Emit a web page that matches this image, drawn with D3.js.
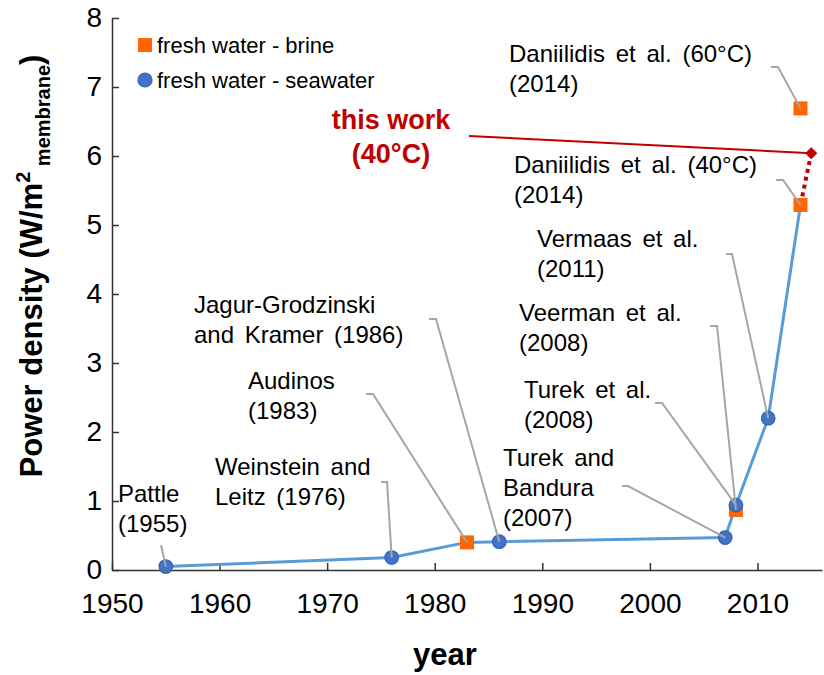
<!DOCTYPE html>
<html>
<head>
<meta charset="utf-8">
<script src="https://cdn.jsdelivr.net/npm/d3@7/dist/d3.min.js"></script>
<style>
  html, body { margin: 0; padding: 0; background: #fff; }
  svg { display: block; font-family: "Liberation Sans", Arial, sans-serif; }
</style>
</head>
<body>
<svg id="chart" width="824" height="675"></svg>
<script>
// ---------- data ----------
const xTicks = [1950, 1960, 1970, 1980, 1990, 2000, 2010];
const yTicks = [0, 1, 2, 3, 4, 5, 6, 7, 8];

const seawaterYears  = [1955, 1976, 1986, 2007, 2008, 2011];
const seawaterValues = [0.05, 0.18, 0.41, 0.47, 0.94, 2.2];

const brineYears  = [1983, 2008, 2014, 2014];
const brineValues = [0.40, 0.87, 5.29, 6.69];

const trendYears  = [1955, 1976, 1983, 1986, 2007, 2008, 2011, 2014];
const trendValues = [0.05, 0.18, 0.40, 0.41, 0.47, 0.94, 2.2, 5.29];

const thisWorkYear = 2015;
const thisWorkValue = 6.04;

const legendLabels = ["fresh water - brine", "fresh water - seawater"];

const annTexts = [
  ["Pattle", "(1955)"],
  ["Weinstein and", "Leitz (1976)"],
  ["Audinos", "(1983)"],
  ["Jagur-Grodzinski", "and Kramer (1986)"],
  ["Turek and", "Bandura", "(2007)"],
  ["Turek et al.", "(2008)"],
  ["Veerman et al.", "(2008)"],
  ["Vermaas et al.", "(2011)"],
  ["Daniilidis et al. (40°C)", "(2014)"],
  ["Daniilidis et al. (60°C)", "(2014)"]
];
const annTargetYears  = [1955, 1976, 1983, 1986, 2007, 2008, 2008, 2011, 2014, 2014];
const annTargetValues = [0.05, 0.18, 0.40, 0.41, 0.47, 0.94, 0.87, 2.2, 5.29, 6.69];
const thisWorkText = ["this work", "(40°C)"];

// ---------- layout (pixels) ----------
const annLayout = [
  { x: 118, y: 502, lead: [[161, 545]] },
  { x: 215, y: 475, lead: [[381, 482], [387, 482]] },
  { x: 248, y: 389, lead: [[366, 394], [373, 394]] },
  { x: 194, y: 313, lead: [[429, 319], [436, 319]] },
  { x: 503, y: 466, lead: [[622, 486], [628, 486]] },
  { x: 524, y: 398, lead: [[655, 403], [662, 403]] },
  { x: 519, y: 321, lead: [[710, 326], [717, 326]] },
  { x: 537, y: 247, lead: [[726, 254], [732, 254]] },
  { x: 514, y: 173, lead: [[776, 180], [783, 180]] },
  { x: 509, y: 62,  lead: [[771, 67], [778, 67]] }
];

const svg = d3.select("#chart");
const x = d3.scaleLinear().domain([1950, 2016]).range([112, 822]);
const y = d3.scaleLinear().domain([0, 8]).range([570, 18]);

const ORANGE = "#FF6600", BLUE = "#4472C4", LINEBLUE = "#5B9BD5", RED = "#C00000", GRAY = "#A6A6A6";

// ---------- axes ----------
const xAxis = d3.axisBottom(x).tickValues(xTicks).tickFormat(d3.format("d"))
  .tickSizeInner(-7).tickSizeOuter(0).tickPadding(23);
const gx = svg.append("g").attr("transform", `translate(0,${y(0)})`).call(xAxis);
gx.select(".domain").attr("stroke", "#333").attr("stroke-width", 1.5);
gx.selectAll(".tick line").attr("stroke", "#333").attr("stroke-width", 1.5);
gx.selectAll(".tick text").attr("font-size", 28).attr("fill", "#000")
  .attr("font-family", "Liberation Sans, Arial, sans-serif");

const yAxis = d3.axisLeft(y).tickValues(yTicks).tickFormat(d3.format("d"))
  .tickSizeInner(-7).tickSizeOuter(0).tickPadding(10);
const gy = svg.append("g").attr("transform", `translate(${x(1950)},0)`).call(yAxis);
gy.select(".domain").attr("stroke", "#333").attr("stroke-width", 1.5);
gy.selectAll(".tick line").attr("stroke", "#333").attr("stroke-width", 1.5);
gy.selectAll(".tick text").attr("font-size", 28).attr("fill", "#000")
  .attr("font-family", "Liberation Sans, Arial, sans-serif");

// axis titles
svg.append("text").attr("x", 445).attr("y", 665).attr("text-anchor", "middle")
  .attr("font-size", 31).attr("font-weight", "bold").attr("fill", "#000").text("year");

const yt = svg.append("text").attr("transform", "translate(42,266) rotate(-90)")
  .attr("text-anchor", "middle").attr("font-weight", "bold").attr("fill", "#000").attr("font-size", 31);
yt.append("tspan").text("Power density (W/m");
yt.append("tspan").attr("font-size", 20).attr("dy", -12).text("2");
yt.append("tspan").attr("font-size", 20).attr("dy", 20).text(" membrane");
yt.append("tspan").attr("dy", -8).text(")");

// ---------- marks ----------
const trendPts = trendYears.map((d, i) => [x(d), y(trendValues[i])]);
svg.append("path").attr("d", d3.line()(trendPts))
  .attr("fill", "none").attr("stroke", LINEBLUE).attr("stroke-width", 3);

// dotted red from last trend point to this work
svg.append("path")
  .attr("d", d3.line()([[x(thisWorkYear), y(thisWorkValue)], [x(2014), y(5.29)]]))
  .attr("stroke", RED).attr("stroke-width", 4).attr("stroke-dasharray", "4,4").attr("fill", "none");

const sq = 14;
svg.append("g").selectAll("rect").data(brineYears).join("rect")
  .attr("x", (d) => x(d) - sq / 2)
  .attr("y", (d, i) => y(brineValues[i]) - sq / 2)
  .attr("width", sq).attr("height", sq).attr("fill", ORANGE);

svg.append("g").selectAll("circle").data(seawaterYears).join("circle")
  .attr("cx", (d) => x(d))
  .attr("cy", (d, i) => y(seawaterValues[i]))
  .attr("r", 6.8).attr("fill", BLUE).attr("stroke", "#2E64B8").attr("stroke-width", 1.2);

// leader lines
annLayout.forEach((L, i) => {
  const pts = L.lead.concat([[x(annTargetYears[i]), y(annTargetValues[i])]]);
  svg.append("path").attr("d", d3.line()(pts))
    .attr("fill", "none").attr("stroke", GRAY).attr("stroke-width", 2);
});

// annotation text
annTexts.forEach((lines, i) => {
  const L = annLayout[i];
  const t = svg.append("text").attr("font-size", 24).attr("fill", "#000").attr("word-spacing", 4);
  lines.forEach((s, j) => t.append("tspan").attr("x", L.x).attr("y", L.y + j * 30).text(s));
});

// this work
svg.append("path")
  .attr("d", d3.line()([[469, 136], [x(thisWorkYear), y(thisWorkValue)]]))
  .attr("stroke", RED).attr("stroke-width", 2).attr("fill", "none");
svg.append("path")
  .attr("d", d3.symbol().type(d3.symbolDiamond2).size(95)())
  .attr("transform", `translate(${x(thisWorkYear)},${y(thisWorkValue)})`)
  .attr("fill", RED);
const tw = svg.append("text").attr("font-size", 27).attr("font-weight", "bold")
  .attr("fill", RED).attr("text-anchor", "middle");
thisWorkText.forEach((s, j) => tw.append("tspan").attr("x", 391).attr("y", 129 + j * 34).text(s));

// ---------- legend ----------
svg.append("rect").attr("x", 138).attr("y", 38).attr("width", 14).attr("height", 14).attr("fill", ORANGE);
svg.append("circle").attr("cx", 145).attr("cy", 80).attr("r", 7)
  .attr("fill", BLUE).attr("stroke", "#2E64B8").attr("stroke-width", 1.2);
legendLabels.forEach((s, i) => {
  svg.append("text").attr("x", 157).attr("y", 53 + i * 35).attr("font-size", 22)
    .attr("fill", "#000").text(s);
});
</script>
</body>
</html>
